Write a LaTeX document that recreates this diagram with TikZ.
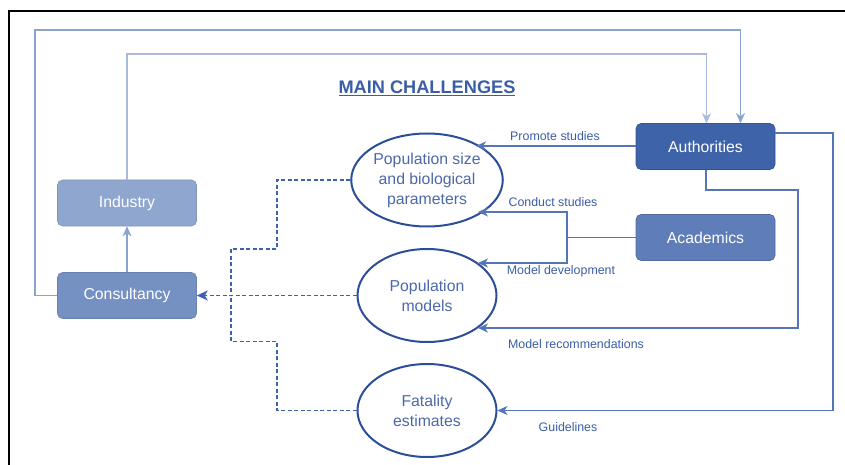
\documentclass[tikz,border=0pt]{standalone}
\usepackage{fontspec}
\setmainfont{Liberation Sans}
\usetikzlibrary{arrows.meta,shapes.geometric}
\definecolor{authc}{HTML}{3F63A8}
\definecolor{acadc}{HTML}{5F7DB8}
\definecolor{consc}{HTML}{7590C2}
\definecolor{indc}{HTML}{8FA6CE}
\definecolor{ellc}{HTML}{2B4E98}
\definecolor{txtc}{HTML}{3A5DA6}
\definecolor{linec}{HTML}{5475B6}
\definecolor{lightc}{HTML}{A8BBDC}
\definecolor{midc}{HTML}{8BA3CD}
\definecolor{dashc}{HTML}{3F62AA}
\tikzset{
  actor/.style={rectangle, rounded corners=5pt, minimum width=139pt, minimum height=46pt, text=white, font=\fontsize{15.8}{18}\selectfont, inner sep=0pt},
  chall/.style={ellipse, draw=ellc, line width=2pt, minimum width=139pt, minimum height=93pt, text=ellc!85!white, align=center, font=\fontsize{15.8}{20}\selectfont, inner sep=0pt},
  lbl/.style={text=txtc, font=\fontsize{12.4}{14}\selectfont, inner sep=0pt},
  tip/.style={-{Stealth[length=10pt,width=9pt,inset=3pt]}},
  flow/.style={draw=linec, line width=1.3pt, tip},
  flowl/.style={draw=lightc, line width=1.3pt, tip},
  flowm/.style={draw=midc, line width=1.3pt, tip},
  dline/.style={draw=dashc, line width=1.3pt, dash pattern=on 4pt off 2.5pt},
}
\begin{document}
\begin{tikzpicture}[x=1pt,y=-1pt]
\useasboundingbox (0,0) rectangle (845,465);
% frame
\draw[black, line width=1.8pt] (9,466) -- (9,11) -- (846,11);
% title
\node[text=txtc, font=\bfseries\fontsize{18.2}{20}\selectfont] (title) at (427,88) {\underline{MAIN CHALLENGES}};
% actors
\node[actor, fill=authc, draw=authc!85!black, line width=0.6pt] (auth) at (705.5,146.5) {Authorities};
\node[actor, fill=acadc, draw=acadc!85!black, line width=0.6pt] (acad) at (705.5,237.5) {Academics};
\node[actor, fill=indc, draw=indc!90!black, line width=0.6pt] (ind) at (127,203) {Industry};
\node[actor, fill=consc, draw=consc!90!black, line width=0.6pt] (cons) at (127,295.5) {Consultancy};
% challenges
\node[chall] (pop) at (427,180) {Population size\\and biological\\parameters};
\node[chall] (mod) at (427,295.5) {Population\\models};
\node[chall] (fat) at (427,410.5) {Fatality\\estimates};
% coordinates
\coordinate (o1) at (35,295.5);
\coordinate (o2) at (35,30);
\coordinate (o3) at (740.5,30);
\coordinate (i1) at (127,54);
\coordinate (i2) at (706.5,54);
% light top loops
\draw[flowm] (cons.west) -- (o1) -- (o2) -- (o3) -- (o3 |- auth.north);
\draw[flowl] (ind.north) -- (i1) -- (i2) -- (i2 |- auth.north);
\draw[flowm] (cons.north) -- (ind.south);
% authorities & academics arrows
\coordinate (pa) at (476,146);
\draw[flow] (auth.west |- pa) -- (pa);
\node[lbl] (l1) at (555,136) {Promote studies};
\coordinate (ac) at (567,237.5);
\coordinate (pb) at (478,212);
\coordinate (mb) at (478,263);
\draw[flow] (acad.west) -- (ac) -- (ac |- pb) -- (pb);
\draw[flow] (ac) -- (ac |- mb) -- (mb);
\node[lbl] (l2) at (553,202.5) {Conduct studies};
\node[lbl] (l3) at (561,271.5) {Model development};
\coordinate (r1) at (706,190);
\coordinate (r2) at (798,190);
\coordinate (r3) at (798,328);
\coordinate (mc) at (478,328);
\draw[flow] (auth.south -| r1) -- (r1) -- (r2) -- (r3) -- (mc);
\node[lbl] (l4) at (576,344.5) {Model recommendations};
\coordinate (g1) at (833,133);
\coordinate (g2) at (833,410.5);
\draw[flow] (auth.east |- g1) -- (g1) -- (g2) -- (fat.east);
\node[lbl] (l5) at (568,427.5) {Guidelines};
% dashed lines
\coordinate (d1) at (277,180);
\coordinate (d2) at (277,249);
\coordinate (d3) at (231,249);
\coordinate (d4) at (231,341.5);
\coordinate (d5) at (277,341.5);
\coordinate (d6) at (277,410.5);
\draw[dline] (pop.west) -- (d1) -- (d2) -- (d3) -- (d3 |- cons.east);
\draw[dline] (fat.west) -- (d6) -- (d5) -- (d4) -- (d4 |- cons.east);
\draw[dline, -{Stealth[length=11pt,width=10pt,inset=3pt]}] (mod.west) -- (cons.east);
\end{tikzpicture}
\end{document}
